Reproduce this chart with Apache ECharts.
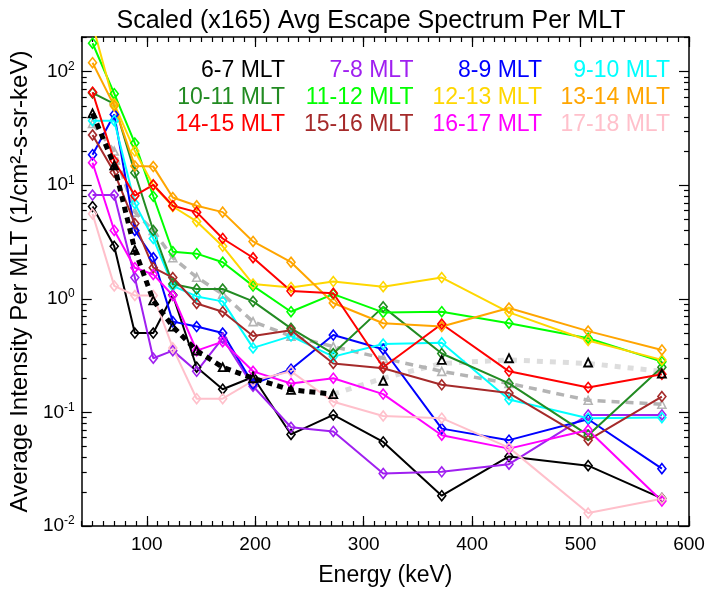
<!DOCTYPE html>
<html>
<head>
<meta charset="utf-8">
<script src="https://cdn.jsdelivr.net/npm/echarts@6/dist/echarts.min.js"></script>
<style>
html,body{margin:0;padding:0;background:#fff;}
#chart{width:709px;height:592px;}
</style>
</head>
<body>
<div id="chart"></div>
<script>
// ---- data ----
const energies = [50, 70, 89, 106, 124, 146, 170, 198, 233, 272, 318, 372, 434, 507, 575];

const mlt06_07 = [6.5, 2.9, 0.50, 0.50, 1.08, 0.25, 0.16, 0.205, 0.064, 0.095, 0.055, 0.0185, 0.041, 0.034, 0.0175];
const mlt07_08 = [8.2, 8.2, 1.54, 0.30, 0.35, 0.23, 0.45, 0.17, 0.074, 0.068, 0.029, 0.030, 0.035, 0.095, 0.095];
const mlt08_09 = [18.6, 42, 4.0, 2.3, 0.63, 0.57, 0.50, 0.178, 0.24, 0.48, 0.36, 0.072, 0.057, 0.087, 0.032];
const mlt09_10 = [37, 37, 6.9, 3.4, 1.3, 1.05, 0.95, 0.37, 0.47, 0.31, 0.40, 0.41, 0.13, 0.089, 0.09];
const mlt10_11 = [65, 52, 12.9, 4.0, 1.35, 1.22, 1.22, 0.95, 0.55, 0.33, 0.85, 0.33, 0.18, 0.063, 0.25];
const mlt11_12 = [178, 64, 23.5, 8.0, 2.6, 2.5, 2.1, 1.3, 0.77, 1.1, 0.76, 0.77, 0.61, 0.45, 0.28];
const mlt12_13 = [260, 52, 20, 10, 6.5, 4.8, 2.9, 1.35, 1.26, 1.42, 1.28, 1.54, 0.76, 0.43, 0.29];
const mlt13_14 = [120, 50, 14.8, 14.6, 7.8, 6.6, 5.8, 3.2, 2.1, 0.92, 0.61, 0.57, 0.83, 0.52, 0.355];
const mlt14_15 = [66, 16.4, 8.1, 10.1, 6.6, 5.8, 3.4, 2.3, 1.17, 1.12, 0.25, 0.60, 0.23, 0.166, 0.217];
const mlt15_16 = [27.7, 13, 4.6, 1.88, 1.54, 0.91, 0.77, 0.47, 0.53, 0.27, 0.245, 0.175, 0.148, 0.057, 0.138];
const mlt16_17 = [15.8, 4.0, 1.88, 1.64, 1.07, 0.35, 0.42, 0.23, 0.18, 0.20, 0.145, 0.063, 0.048, 0.070, 0.0166];
const mlt17_18 = [5.6, 1.3, 1.07, 1.07, 0.37, 0.132, 0.132, 0.19, 0.23, 0.124, 0.093, 0.089, 0.049, 0.013, 0.0174];

const avgBlack = [43, 15, 2.7, 0.97, 0.57, 0.35, 0.25, 0.20, 0.158, 0.145, 0.19, 0.29, 0.30, 0.275, 0.22];
const fitLow = [43, 15, 2.7, 0.97, 0.57, 0.35, 0.25, 0.20, 0.158, 0.145];
const fitLowE = [50, 70, 89, 106, 124, 146, 170, 198, 233, 272];
const fitHigh = [0.145, 0.20, 0.27, 0.29, 0.27, 0.23];
const fitHighE = [272, 318, 372, 434, 507, 575];
const avgGrey = [35, 20, 5.8, 4.0, 2.3, 1.55, 1.1, 0.63, 0.47, 0.38, 0.30, 0.23, 0.18, 0.128, 0.118];

const xMajor = [100, 200, 300, 400, 500, 600];
const yMajor = [0.01, 0.1, 1, 10, 100];

const seriesNames = ['6-7 MLT','7-8 MLT','8-9 MLT','9-10 MLT','10-11 MLT','11-12 MLT','12-13 MLT','13-14 MLT','14-15 MLT','15-16 MLT','16-17 MLT','17-18 MLT'];
const seriesColors = ['#000000','#a020f0','#0000ff','#00ffff','#228b22','#00ff00','#ffd700','#ffa500','#ff0000','#a52a2a','#ff00ff','#ffc0cb'];
const seriesValues = [mlt06_07, mlt07_08, mlt08_09, mlt09_10, mlt10_11, mlt11_12, mlt12_13, mlt13_14, mlt14_15, mlt15_16, mlt16_17, mlt17_18];

// ---- build ----
const FONT = 'Liberation Sans, Arial, Helvetica, sans-serif';
const pairs = (xs, ys) => xs.map((x, i) => [x, ys[i]]);

const xMinor = [];
for (let v = 40; v <= 600; v += 10) xMinor.push(v);
const yMinor = [];
[0.01, 0.1, 1, 10, 100].forEach(d => { for (let k = 2; k <= 9; k++) { const v = +(d * k).toPrecision(3); if (v <= 202) yMinor.push(v); } });

const axisLineStyle = { color: '#000', width: 1.5 };

function xAx(pos, ticks, len, showLabel, showLine) {
  return {
    type: 'value', position: pos, min: 40, max: 600,
    axisLine: { show: showLine, lineStyle: axisLineStyle },
    splitLine: { show: false },
    axisTick: { show: true, inside: true, length: len, customValues: ticks, lineStyle: { color: '#000', width: 1.2 } },
    axisLabel: showLabel ? { customValues: xMajor, margin: 9, fontSize: 19, color: '#000', fontFamily: FONT } : { show: false },
    name: showLabel ? 'Energy (keV)' : '',
    nameLocation: 'middle', nameGap: 38,
    nameTextStyle: { fontSize: 23, color: '#000', fontFamily: FONT }
  };
}
function yAx(pos, ticks, len, showLabel, showLine) {
  return {
    type: 'log', position: pos, min: 0.01, max: 202, logBase: 10,
    axisLine: { show: showLine, lineStyle: axisLineStyle },
    splitLine: { show: false },
    axisTick: { show: true, inside: true, length: len, customValues: ticks, lineStyle: { color: '#000', width: 1.2 } },
    axisLabel: showLabel ? {
      customValues: yMajor, margin: 7, color: '#000', fontFamily: FONT,
      formatter: v => '{b|10}{s|' + Math.round(Math.log10(v)) + '}',
      rich: { b: { fontSize: 19, fontFamily: FONT, color: '#000' }, s: { fontSize: 12, fontFamily: FONT, color: '#000', verticalAlign: 'top', padding: [0, 0, 10, 0] } }
    } : { show: false },
    name: showLabel ? 'Average Intensity Per MLT (1/cm\u00b2-s-sr-keV)' : '',
    nameLocation: 'middle', nameGap: 46,
    nameTextStyle: { fontSize: 24, color: '#000', fontFamily: FONT }
  };
}

const series = [];
seriesValues.forEach((vals, i) => {
  series.push({
    name: seriesNames[i], type: 'line', xAxisIndex: 0, yAxisIndex: 0,
    data: pairs(energies, vals),
    symbol: 'diamond', symbolSize: [8, 10],
    itemStyle: { color: 'rgba(0,0,0,0)', borderColor: seriesColors[i], borderWidth: 1.6 },
    lineStyle: { color: seriesColors[i], width: 2 },
    color: seriesColors[i],
    clip: true, animation: false, z: 3
  });
});
series.push({
  name: 'fitHigh', type: 'line', data: pairs(fitHighE, fitHigh), symbol: 'none',
  lineStyle: { color: '#dddddd', width: 5, type: [6, 7] }, clip: true, animation: false, z: 2
});
series.push({
  name: 'avgGrey', type: 'line', data: pairs(energies, avgGrey),
  symbol: 'triangle', symbolSize: 8,
  itemStyle: { color: 'rgba(0,0,0,0)', borderColor: '#b4b4b4', borderWidth: 1.6 },
  lineStyle: { color: '#b4b4b4', width: 3.5, type: [8, 6] }, clip: true, animation: false, z: 2
});
series.push({
  name: 'fitLow', type: 'line', data: pairs(fitLowE, fitLow), symbol: 'none',
  lineStyle: { color: '#000', width: 5, type: [6, 5] }, clip: true, animation: false, z: 4
});
series.push({
  name: 'avgBlack', type: 'line', data: pairs(energies, avgBlack),
  symbol: 'triangle', symbolSize: 8,
  itemStyle: { color: 'rgba(0,0,0,0)', borderColor: '#000', borderWidth: 1.8 },
  lineStyle: { width: 0, opacity: 0 }, clip: true, animation: false, z: 5
});

const colRight = [418, 289.5, 161, 33];
const legends = colRight.map((r, c) => ({
  orient: 'vertical', right: r, top: 59, padding: 0, itemGap: 4,
  itemWidth: 0, itemHeight: 14, align: 'right', selectedMode: false,
  icon: 'rect', itemStyle: { opacity: 0 }, lineStyle: { opacity: 0 },
  textStyle: { fontSize: 23, fontFamily: FONT },
  data: [0, 1, 2].map(row => {
    const idx = row * 4 + c;
    return { name: seriesNames[idx], textStyle: { color: seriesColors[idx] } };
  })
}));

const option = {
  backgroundColor: '#fff',
  animation: false,
  title: {
    text: 'Scaled (x165) Avg Escape Spectrum Per MLT', left: 366, textAlign: 'center', top: 4,
    textStyle: { fontSize: 25, fontWeight: 'normal', color: '#000', fontFamily: FONT }
  },
  legend: legends,
  grid: { left: 74, right: 20, top: 37, bottom: 57, show: false },
  xAxis: [
    xAx('bottom', xMajor, 10, true, true),
    xAx('bottom', xMinor, 5, false, false),
    xAx('top', xMajor, 10, false, true),
    xAx('top', xMinor, 5, false, false)
  ],
  yAxis: [
    yAx('left', yMajor, 10, true, true),
    yAx('left', yMinor, 5, false, false),
    yAx('right', yMajor, 10, false, true),
    yAx('right', yMinor, 5, false, false)
  ],
  series: series
};

const chart = echarts.init(document.getElementById('chart'), null, { renderer: 'canvas' });
chart.setOption(option);
</script>
</body>
</html>
